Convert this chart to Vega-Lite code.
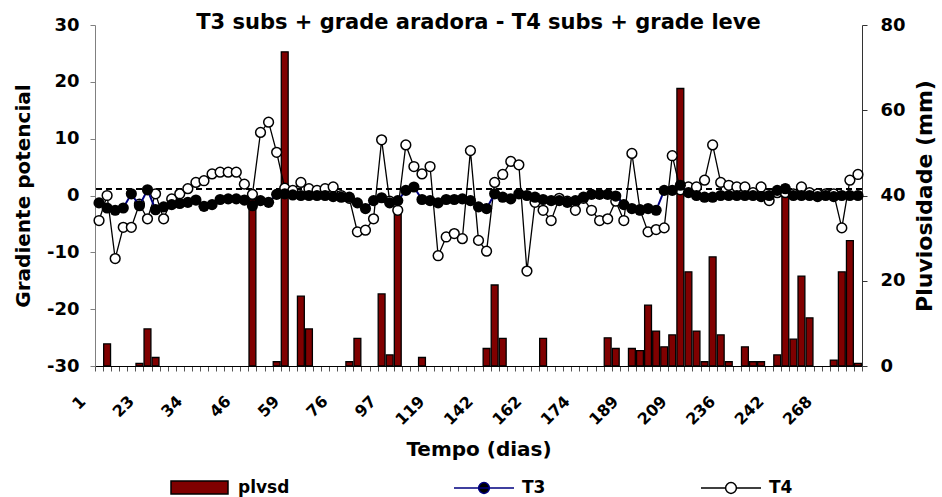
{
  "$schema": "https://vega.github.io/schema/vega-lite/v6.json",
  "width": 767,
  "height": 341,
  "autosize": "none",
  "padding": {"left": 95, "top": 25, "right": 80, "bottom": 131},
  "background": "white",
  "config": {
    "font": "DejaVu Sans",
    "view": {"stroke": null},
    "axis": {"labelFont": "DejaVu Sans", "titleFont": "DejaVu Sans", "labelFontWeight": "bold", "titleFontWeight": "bold", "labelColor": "black", "titleColor": "black", "grid": false},
    "axisXBand": {"labels": false, "tickBand": "extent", "tickSize": 5, "tickColor": "#555555", "domainColor": "black", "domainWidth": 1, "titleFontSize": 20, "titleY": 89, "titleBaseline": "alphabetic"},
    "axisLeft": {"tickSize": 5, "labelPadding": 11, "labelFontSize": 18, "titleFontSize": 20, "titleAngle": -90, "titleX": -72, "titleBaseline": "middle", "domainColor": "#808080", "tickColor": "#808080"},
    "axisRight": {"tickSize": 5, "labelPadding": 13, "labelFontSize": 18, "titleFontSize": 22, "titleAngle": -90, "titleX": 62, "titleBaseline": "middle", "domainColor": "#333333", "tickColor": "#333333"}
  },
  "title": {"text": "T3 subs + grade aradora - T4 subs + grade leve", "fontSize": 21, "fontWeight": "bold", "font": "DejaVu Sans", "anchor": "middle", "offset": -17, "color": "black"},
  "data": {"values": [
    {"i":1,"lab":"1","plvsd":0,"T3":-1.3,"T4":-4.4},
    {"i":2,"plvsd":5.2,"T3":-2.2,"T4":0.0},
    {"i":3,"plvsd":0,"T3":-2.6,"T4":-11.1},
    {"i":4,"plvsd":0,"T3":-2.2,"T4":-5.6},
    {"i":5,"plvsd":0,"T3":0.3,"T4":-5.6},
    {"i":6,"plvsd":0.6,"T3":-1.8,"T4":-1.5},
    {"i":7,"lab":"23","plvsd":8.7,"T3":1.0,"T4":-4.1},
    {"i":8,"plvsd":2.0,"T3":-2.5,"T4":0.3},
    {"i":9,"plvsd":0,"T3":-2.0,"T4":-4.1},
    {"i":10,"plvsd":0,"T3":-1.6,"T4":-0.6},
    {"i":11,"plvsd":0,"T3":-1.4,"T4":0.3},
    {"i":12,"plvsd":0,"T3":-1.2,"T4":1.2},
    {"i":13,"lab":"34","plvsd":0,"T3":-0.8,"T4":2.3},
    {"i":14,"plvsd":0,"T3":-1.9,"T4":2.6},
    {"i":15,"plvsd":0,"T3":-1.6,"T4":3.8},
    {"i":16,"plvsd":0,"T3":-0.7,"T4":4.1},
    {"i":17,"plvsd":0,"T3":-0.6,"T4":4.1},
    {"i":18,"plvsd":0,"T3":-0.6,"T4":4.1},
    {"i":19,"lab":"46","plvsd":0,"T3":-0.8,"T4":2.0},
    {"i":20,"plvsd":39,"T3":-1.8,"T4":0.2},
    {"i":21,"plvsd":0,"T3":-0.9,"T4":11.1},
    {"i":22,"plvsd":0,"T3":-1.2,"T4":12.9},
    {"i":23,"plvsd":1.0,"T3":0.2,"T4":7.6},
    {"i":24,"plvsd":73.7,"T3":0.3,"T4":1.3},
    {"i":25,"lab":"59","plvsd":0,"T3":0.1,"T4":0.9},
    {"i":26,"plvsd":16.4,"T3":0.0,"T4":2.3},
    {"i":27,"plvsd":8.7,"T3":0.0,"T4":1.2},
    {"i":28,"plvsd":0,"T3":0.0,"T4":0.9},
    {"i":29,"plvsd":0,"T3":0.0,"T4":1.2},
    {"i":30,"plvsd":0,"T3":-0.2,"T4":1.5},
    {"i":31,"lab":"76","plvsd":0,"T3":-0.3,"T4":0.0},
    {"i":32,"plvsd":1.0,"T3":-0.3,"T4":-0.5},
    {"i":33,"plvsd":6.5,"T3":-1.3,"T4":-6.4},
    {"i":34,"plvsd":0,"T3":-2.3,"T4":-6.1},
    {"i":35,"plvsd":0,"T3":-0.9,"T4":-4.1},
    {"i":36,"plvsd":16.9,"T3":-0.4,"T4":9.8},
    {"i":37,"lab":"97","plvsd":2.6,"T3":-1.3,"T4":-1.0},
    {"i":38,"plvsd":36.6,"T3":-0.9,"T4":-2.6},
    {"i":39,"plvsd":0,"T3":0.9,"T4":8.9},
    {"i":40,"plvsd":0,"T3":1.5,"T4":5.1},
    {"i":41,"plvsd":2.0,"T3":-0.7,"T4":3.8},
    {"i":42,"plvsd":0,"T3":-0.9,"T4":5.1},
    {"i":43,"lab":"119","plvsd":0,"T3":-1.3,"T4":-10.6},
    {"i":44,"plvsd":0,"T3":-0.7,"T4":-7.3},
    {"i":45,"plvsd":0,"T3":-0.7,"T4":-6.7},
    {"i":46,"plvsd":0,"T3":-0.6,"T4":-7.6},
    {"i":47,"plvsd":0,"T3":-0.9,"T4":7.9},
    {"i":48,"plvsd":0,"T3":-2.0,"T4":-7.9},
    {"i":49,"lab":"142","plvsd":4.1,"T3":-2.3,"T4":-9.8},
    {"i":50,"plvsd":19.0,"T3":0.3,"T4":2.3},
    {"i":51,"plvsd":6.5,"T3":-0.3,"T4":3.7},
    {"i":52,"plvsd":0,"T3":-0.6,"T4":6.0},
    {"i":53,"plvsd":0,"T3":0.3,"T4":5.4},
    {"i":54,"plvsd":0,"T3":0.0,"T4":-13.3},
    {"i":55,"lab":"162","plvsd":0,"T3":-0.3,"T4":-1.2},
    {"i":56,"plvsd":6.5,"T3":-0.7,"T4":-2.6},
    {"i":57,"plvsd":0,"T3":-0.9,"T4":-4.4},
    {"i":58,"plvsd":0,"T3":-0.9,"T4":-0.5},
    {"i":59,"plvsd":0,"T3":-1.2,"T4":-1.0},
    {"i":60,"plvsd":0,"T3":-0.9,"T4":-2.6},
    {"i":61,"lab":"174","plvsd":0,"T3":-0.3,"T4":-0.5},
    {"i":62,"plvsd":0,"T3":0.2,"T4":-2.6},
    {"i":63,"plvsd":0,"T3":0.2,"T4":-4.4},
    {"i":64,"plvsd":6.6,"T3":0.2,"T4":-4.1},
    {"i":65,"plvsd":4.1,"T3":-0.1,"T4":-1.0},
    {"i":66,"plvsd":0,"T3":-1.6,"T4":-4.4},
    {"i":67,"lab":"189","plvsd":4.1,"T3":-2.3,"T4":7.4},
    {"i":68,"plvsd":3.6,"T3":-2.6,"T4":-2.5},
    {"i":69,"plvsd":14.3,"T3":-2.3,"T4":-6.4},
    {"i":70,"plvsd":8.2,"T3":-2.6,"T4":-6.0},
    {"i":71,"plvsd":4.5,"T3":0.9,"T4":-5.7},
    {"i":72,"plvsd":7.3,"T3":0.9,"T4":7.0},
    {"i":73,"lab":"209","plvsd":65.1,"T3":1.8,"T4":1.0},
    {"i":74,"plvsd":22.1,"T3":0.5,"T4":1.5},
    {"i":75,"plvsd":8.2,"T3":0.0,"T4":1.5},
    {"i":76,"plvsd":1.0,"T3":-0.3,"T4":2.7},
    {"i":77,"plvsd":25.6,"T3":-0.3,"T4":8.9},
    {"i":78,"plvsd":7.3,"T3":0.0,"T4":2.3},
    {"i":79,"lab":"236","plvsd":1.0,"T3":0.0,"T4":1.8},
    {"i":80,"plvsd":0,"T3":0.0,"T4":1.5},
    {"i":81,"plvsd":4.5,"T3":0.0,"T4":1.5},
    {"i":82,"plvsd":1.0,"T3":0.0,"T4":0.5},
    {"i":83,"plvsd":1.0,"T3":-0.2,"T4":1.5},
    {"i":84,"plvsd":0,"T3":0.0,"T4":-0.9},
    {"i":85,"lab":"242","plvsd":2.6,"T3":0.9,"T4":0.5},
    {"i":86,"plvsd":42.4,"T3":1.2,"T4":0.5},
    {"i":87,"plvsd":6.3,"T3":0.0,"T4":0.3},
    {"i":88,"plvsd":21.1,"T3":0.0,"T4":1.5},
    {"i":89,"plvsd":11.3,"T3":0.0,"T4":0.5},
    {"i":90,"plvsd":0,"T3":-0.2,"T4":0.3},
    {"i":91,"lab":"268","plvsd":0,"T3":0.0,"T4":0.3},
    {"i":92,"plvsd":1.4,"T3":-0.2,"T4":0.3},
    {"i":93,"plvsd":22.1,"T3":0.0,"T4":-5.7},
    {"i":94,"plvsd":29.4,"T3":0.0,"T4":2.7},
    {"i":95,"plvsd":0.6,"T3":0.0,"T4":3.7}
  ]},
  "layer": [
    {
      "transform": [{"filter": "datum.plvsd > 0"}],
      "mark": {"type": "bar", "width": {"band": 0.85}, "stroke": "black", "strokeWidth": 1.3},
      "encoding": {
        "x": {"field": "i", "type": "ordinal",
          "scale": {"domain": [1,2,3,4,5,6,7,8,9,10,11,12,13,14,15,16,17,18,19,20,21,22,23,24,25,26,27,28,29,30,31,32,33,34,35,36,37,38,39,40,41,42,43,44,45,46,47,48,49,50,51,52,53,54,55,56,57,58,59,60,61,62,63,64,65,66,67,68,69,70,71,72,73,74,75,76,77,78,79,80,81,82,83,84,85,86,87,88,89,90,91,92,93,94,95], "paddingInner": 0, "paddingOuter": 0},
          "axis": {"title": "Tempo (dias)"}},
        "y": {"field": "plvsd", "type": "quantitative", "scale": {"domain": [0, 80], "nice": false, "zero": true},
          "axis": {"orient": "right", "title": "Pluviosidade (mm)", "values": [0, 20, 40, 60, 80]}},
        "fill": {"datum": "plvsd", "scale": {"domain": ["plvsd"], "range": ["#800000"]},
          "legend": {"orient": "none", "legendX": 75, "legendY": 433, "title": null, "padding": 0, "symbolType": "M-1,-0.23H1V0.23H-1Z", "symbolSize": 3249, "symbolStrokeColor": "black", "symbolStrokeWidth": 1.5, "labelFontSize": 17, "labelFontWeight": "bold", "labelFont": "DejaVu Sans", "labelColor": "black", "labelOffset": 9}}
      }
    },
    {
      "layer": [
        {
          "mark": {"type": "rule", "strokeDash": [6, 4], "color": "black", "strokeWidth": 1.2},
          "encoding": {"y": {"datum": 1.2, "type": "quantitative", "axis": {"title": "Gradiente potencial", "values": [-30, -20, -10, 0, 10, 20, 30], "labelExpr": "'' + datum.value"}}}
        },
        {
          "transform": [{"filter": "datum.lab != null"}],
          "mark": {"type": "text", "angle": 315, "align": "right", "baseline": "middle", "xOffset": -16, "fontSize": 16, "fontWeight": "bold", "font": "DejaVu Sans", "color": "black"},
          "encoding": {
            "x": {"field": "i", "type": "ordinal", "axis": {"title": "Tempo (dias)"}},
            "y": {"datum": -35.8, "type": "quantitative", "axis": {"title": "Gradiente potencial", "values": [-30, -20, -10, 0, 10, 20, 30], "labelExpr": "'' + datum.value"}},
            "text": {"field": "lab"}
          }
        },
        {
          "mark": {"type": "line", "strokeWidth": 1.3},
          "encoding": {
            "x": {"field": "i", "type": "ordinal", "axis": {"title": "Tempo (dias)"}},
            "y": {"field": "T4", "type": "quantitative", "scale": {"domain": [-30, 30], "nice": false},
              "axis": {"title": "Gradiente potencial", "values": [-30, -20, -10, 0, 10, 20, 30], "labelExpr": "'' + datum.value"}},
            "stroke": {"datum": "T4", "scale": {"domain": ["T4"], "range": ["black"]},
              "legend": {"orient": "none", "legendX": 605, "legendY": 432, "title": null, "padding": 0, "symbolType": "M-1,0H-0.18M0.18,0H1M0.18,0A0.18,0.18,0,1,1,-0.18,0A0.18,0.18,0,1,1,0.18,0Z", "symbolSize": 3600, "symbolStrokeWidth": 1.5, "labelFontSize": 17, "labelFontWeight": "bold", "labelFont": "DejaVu Sans", "labelColor": "black", "labelOffset": 7,
                "encode": {"symbols": {"update": {"fill": {"value": "white"}, "stroke": {"value": "black"}}}}}}
          }
        },
        {
          "mark": {"type": "point", "shape": "circle", "filled": true, "fill": "white", "stroke": "black", "strokeWidth": 1.5, "size": 95, "opacity": 1},
          "encoding": {
            "x": {"field": "i", "type": "ordinal", "axis": {"title": "Tempo (dias)"}},
            "y": {"field": "T4", "type": "quantitative", "axis": {"title": "Gradiente potencial", "values": [-30, -20, -10, 0, 10, 20, 30], "labelExpr": "'' + datum.value"}}
          }
        },
        {
          "mark": {"type": "line", "strokeWidth": 2},
          "encoding": {
            "x": {"field": "i", "type": "ordinal", "axis": {"title": "Tempo (dias)"}},
            "y": {"field": "T3", "type": "quantitative", "axis": {"title": "Gradiente potencial", "values": [-30, -20, -10, 0, 10, 20, 30], "labelExpr": "'' + datum.value"}},
            "stroke": {"datum": "T3", "scale": {"domain": ["T3"], "range": ["#000080"]},
              "legend": {"orient": "none", "legendX": 358, "legendY": 432, "title": null, "padding": 0, "symbolType": "M-1,0H1M0.18,0A0.18,0.18,0,1,1,-0.18,0A0.18,0.18,0,1,1,0.18,0Z", "symbolSize": 3600, "symbolStrokeWidth": 1.5, "labelFontSize": 17, "labelFontWeight": "bold", "labelFont": "DejaVu Sans", "labelColor": "black", "labelOffset": 7,
                "encode": {"symbols": {"update": {"fill": {"value": "black"}, "stroke": {"value": "#000080"}}}}}}
          }
        },
        {
          "mark": {"type": "circle", "color": "black", "size": 125, "opacity": 1},
          "encoding": {
            "x": {"field": "i", "type": "ordinal", "axis": {"title": "Tempo (dias)"}},
            "y": {"field": "T3", "type": "quantitative", "axis": {"title": "Gradiente potencial", "values": [-30, -20, -10, 0, 10, 20, 30], "labelExpr": "'' + datum.value"}}
          }
        }
      ],
      "resolve": {"scale": {"stroke": "independent"}}
    }
  ],
  "resolve": {"scale": {"y": "independent"}}
}
